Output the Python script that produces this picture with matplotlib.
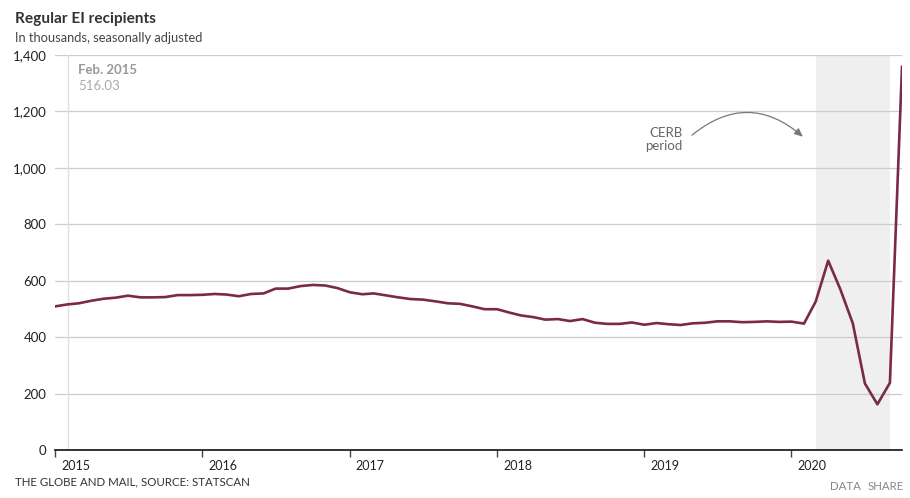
import matplotlib
matplotlib.use("Agg")
import matplotlib.pyplot as plt
import matplotlib.dates as mdates
import matplotlib.transforms as mtransforms
import pandas as pd

plt.rcParams['font.family'] = ['Lato', 'DejaVu Sans']

# monthly data, Jan 2015 - Oct 2020 (thousands)
months = pd.date_range('2015-01-01', periods=70, freq='MS')
recipients = [
    509, 516.03, 520, 529, 536, 540, 547, 541, 541, 542, 549, 549,
    550, 553, 551, 545, 553, 555, 572, 572, 581, 585, 583, 574,
    559, 552, 555, 548, 541, 535, 533, 527, 520, 518, 509, 499,
    499, 487, 477, 471, 462, 464, 457, 464, 451, 447, 447, 452,
    444, 450, 446, 443, 449, 451, 456, 456, 453, 454, 456, 454,
    455, 448, 526, 671, 570, 449, 236, 162, 238, 1358,
]
cerb_start = pd.Timestamp('2020-03-01')
cerb_end = pd.Timestamp('2020-09-01')
hover_date = pd.Timestamp('2015-02-01')
yticks = [0, 200, 400, 600, 800, 1000, 1200, 1400]
years = [pd.Timestamp('%d-01-01' % y) for y in range(2015, 2021)]

fig = plt.figure(figsize=(9.1, 4.98), dpi=100)
ax = fig.add_axes([55/910, 1-450/498, 847/910, 395/498])

ax.axvspan(cerb_start, cerb_end, color='#efefef', zorder=0, lw=0)
ax.axvline(hover_date, color='#e0e0e0', lw=1, zorder=0.6)
ax.plot(months, recipients, color='#7a2a48', lw=1.9, zorder=3)

ax.set_xlim(months[0], months[-1])
ax.set_ylim(0, 1400)
ax.set_yticks(yticks)
ax.set_yticklabels(['{:,}'.format(v) for v in yticks])
ax.yaxis.grid(True, color='#cccccc', lw=0.9)
ax.set_axisbelow(True)
ax.tick_params(axis='y', length=0, pad=6, labelsize=9.5, labelcolor='#222222')

ax.set_xticks(years)
ax.xaxis.set_major_formatter(mdates.DateFormatter('%Y'))
ax.tick_params(axis='x', length=5, width=1, color='#444444', pad=2,
               labelsize=9, labelcolor='#222222')
offset = mtransforms.ScaledTranslation(6/100, 0, fig.dpi_scale_trans)
for lab in ax.get_xticklabels():
    lab.set_horizontalalignment('left')
    lab.set_transform(lab.get_transform() + offset)

for s in ['top', 'right', 'left']:
    ax.spines[s].set_visible(False)
ax.spines['bottom'].set_color('#111111')
ax.spines['bottom'].set_linewidth(1.2)

# hover label
ax.text(0.027, 0.953, 'Feb. 2015', transform=ax.transAxes, fontsize=9.5,
        fontweight='bold', color='#999999', va='baseline')
ax.text(0.027, 0.912, '516.03', transform=ax.transAxes, fontsize=9.5,
        color='#aaaaaa', va='baseline')

# CERB annotation
ax.text(0.741, 0.786, 'CERB\nperiod', transform=ax.transAxes, fontsize=9.5,
        color='#666666', ha='right', va='center', ma='right', linespacing=1.05)
ax.annotate('', xy=(0.883, 0.793), xytext=(0.752, 0.797),
            xycoords='axes fraction', textcoords='axes fraction',
            arrowprops=dict(arrowstyle='-|>,head_length=0.5,head_width=0.22',
                            connectionstyle='arc3,rad=-0.42', color='#777777',
                            lw=0.9, shrinkA=0, shrinkB=0))

# titles and footer
fig.text(15/910, 1-23/498, 'Regular EI recipients', fontsize=11.1,
         fontweight='bold', color='#333333', va='baseline')
fig.text(15/910, 1-41.5/498, 'In thousands, seasonally adjusted', fontsize=9.3,
         color='#444444', va='baseline')
fig.text(15/910, 1-485/498, 'THE GLOBE AND MAIL, SOURCE: STATSCAN', fontsize=8.3,
         color='#333333', va='baseline')
fig.text(861/910, 1-490/498, 'DATA', fontsize=8.3, color='#888888',
         va='baseline', ha='right')
fig.text(904/910, 1-490/498, 'SHARE', fontsize=8.3, color='#888888',
         va='baseline', ha='right')

fig.savefig('out.png', dpi=100)
